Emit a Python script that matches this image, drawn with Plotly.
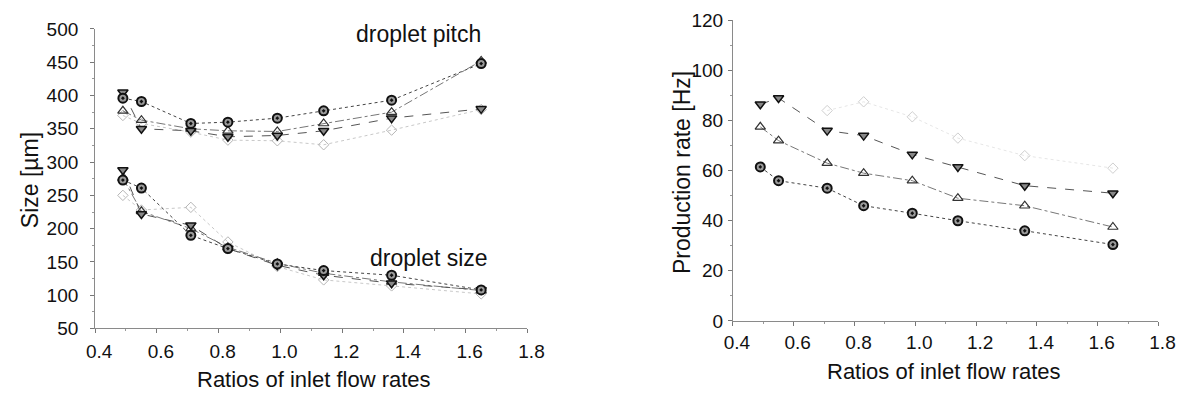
import plotly.graph_objects as go

# ---- data ----
ratios = [0.49, 0.55, 0.71, 0.83, 0.99, 1.14, 1.36, 1.65]

pitch_circle = [396, 391, 358, 360, 366, 377, 393, 448]
pitch_down   = [405, 350, 347, 338, 340, 347, 366, 380]
pitch_up     = [377, 363, 350, 347, 346, 358, 375, 452]
pitch_diam   = [370, 358, 345, 333, 332, 326, 348, 379]

size_circle = [273, 261, 190, 170, 147, 137, 130, 108]
size_down   = [288, 222, 205, 170, 145, 130, 118, 108]
size_up     = [276, 226, 200, 172, 148, 133, 120, 107]
size_diam   = [250, 228, 232, 180, 143, 123, 114, 102]

rate_circle = [61.5, 56, 53, 46, 43, 40, 36, 30.5]
rate_up     = [77.5, 72, 63, 59, 56, 49, 46, 37.5]
rate_down   = [86.5, 89, 76, 74, 66.5, 61.5, 54, 51]
rate_diam_x = [0.71, 0.83, 0.99, 1.14, 1.36, 1.65]
rate_diam   = [84, 87.5, 81.5, 73, 66, 61]

xticks = [0.4, 0.6, 0.8, 1.0, 1.2, 1.4, 1.6, 1.8]
left_yticks = [50, 100, 150, 200, 250, 300, 350, 400, 450, 500]
right_yticks = [0, 20, 40, 60, 80, 100, 120]

FONT = "Liberation Sans, Arial, sans-serif"

styles = {
    "circle": dict(marker=dict(symbol="circle-dot", size=9, color="#9a9a9a",
                               line=dict(color="#111", width=2)),
                   line=dict(color="#444", width=1, dash="dot")),
    "down": dict(marker=dict(symbol="triangle-down", size=9, color="#888",
                             line=dict(color="#111", width=1.5)),
                 line=dict(color="#555", width=1, dash="dash")),
    "up": dict(marker=dict(symbol="triangle-up-open", size=9, color="#333",
                           line=dict(width=1.2)),
               line=dict(color="#777", width=1, dash="dashdot")),
    "diam": dict(marker=dict(symbol="diamond-open", size=8, color="#b5b5b5",
                             line=dict(width=1)),
                 line=dict(color="#c8c8c8", width=1, dash="dot")),
    "diam_faint": dict(marker=dict(symbol="diamond-open", size=8, color="#cfcfcf",
                                   line=dict(width=1)),
                       line=dict(color="#e6e6e6", width=1, dash="dot")),
}

fig = go.Figure()

def add(x, y, key, xa, ya):
    s = styles[key]
    fig.add_trace(go.Scatter(x=x, y=y, mode="lines+markers", xaxis=xa, yaxis=ya,
                             marker=s["marker"], line=s["line"], showlegend=False,
                             hoverinfo="skip"))

for y, k in [(pitch_diam, "diam"), (pitch_up, "up"), (pitch_down, "down"), (pitch_circle, "circle"),
             (size_diam, "diam"), (size_up, "up"), (size_down, "down"), (size_circle, "circle")]:
    add(ratios, y, k, "x", "y")

add(rate_diam_x, rate_diam, "diam_faint", "x2", "y2")
add(ratios, rate_up, "up", "x2", "y2")
add(ratios, rate_down, "down", "x2", "y2")
add(ratios, rate_circle, "circle", "x2", "y2")

axis_common = dict(showgrid=False, zeroline=False, showline=True, linecolor="#8a8a8a",
                   linewidth=1, ticks="outside", ticklen=4, tickcolor="#777",
                   tickfont=dict(family=FONT, size=19, color="#111"))

fig.update_layout(
    width=1198, height=403,
    paper_bgcolor="white", plot_bgcolor="white",
    margin=dict(l=0, r=0, t=0, b=0),
    font=dict(family=FONT, color="#111"),
    xaxis=dict(domain=[88/1198, 530/1198], range=[0.4, 1.8], tickvals=xticks,
               ticktext=[f"{v:.1f}" for v in xticks], anchor="y",
               ticklabelstandoff=2, ticklabelshift=4,
               minor=dict(ticks="outside", ticklen=2, tickcolor="#999", dtick=0.1),
               **axis_common),
    yaxis=dict(domain=[67/403, 383/403], range=[50, 500], tickvals=left_yticks,
               anchor="x", ticklabelstandoff=8,
               minor=dict(ticks="outside", ticklen=2, tickcolor="#999", dtick=25),
               **axis_common),
    xaxis2=dict(domain=[740/1198, 1175/1198], range=[0.4, 1.8], tickvals=xticks,
                ticktext=[f"{v:.1f}" for v in xticks], anchor="y2",
                ticklabelstandoff=0, ticklabelshift=4,
                minor=dict(ticks="outside", ticklen=2, tickcolor="#999", dtick=0.1),
                **axis_common),
    yaxis2=dict(domain=[75/403, 392/403], range=[0, 120], tickvals=right_yticks,
                anchor="x2", ticklabelstandoff=1,
                minor=dict(ticks="outside", ticklen=2, tickcolor="#999", dtick=10),
                **axis_common),
)

ann = [
    dict(text="droplet pitch", x=419/1198, y=1-25/403, size=23, angle=0),
    dict(text="droplet size", x=429/1198, y=1-262/403, size=23, angle=0),
    dict(text="Size [µm]", x=21/1198, y=1-180/403, size=23, angle=-90),
    dict(text="Ratios of inlet flow rates", x=312/1198, y=1-390/403, size=22, angle=0),
    dict(text="Production rate [Hz]", x=688/1198, y=1-172/403, size=23, angle=-90),
    dict(text="Ratios of inlet flow rates", x=956/1198, y=1-381/403, size=22, angle=0),
]
for a in ann:
    fig.add_annotation(text=a["text"], x=a["x"], y=a["y"], xref="paper", yref="paper",
                       showarrow=False, textangle=a["angle"], xanchor="center", yanchor="middle",
                       font=dict(family=FONT, size=a["size"], color="#111"))

fig.write_html("out.html", config={"displayModeBar": False},
               post_script="document.body.style.margin='0';document.body.style.overflow='hidden';")
